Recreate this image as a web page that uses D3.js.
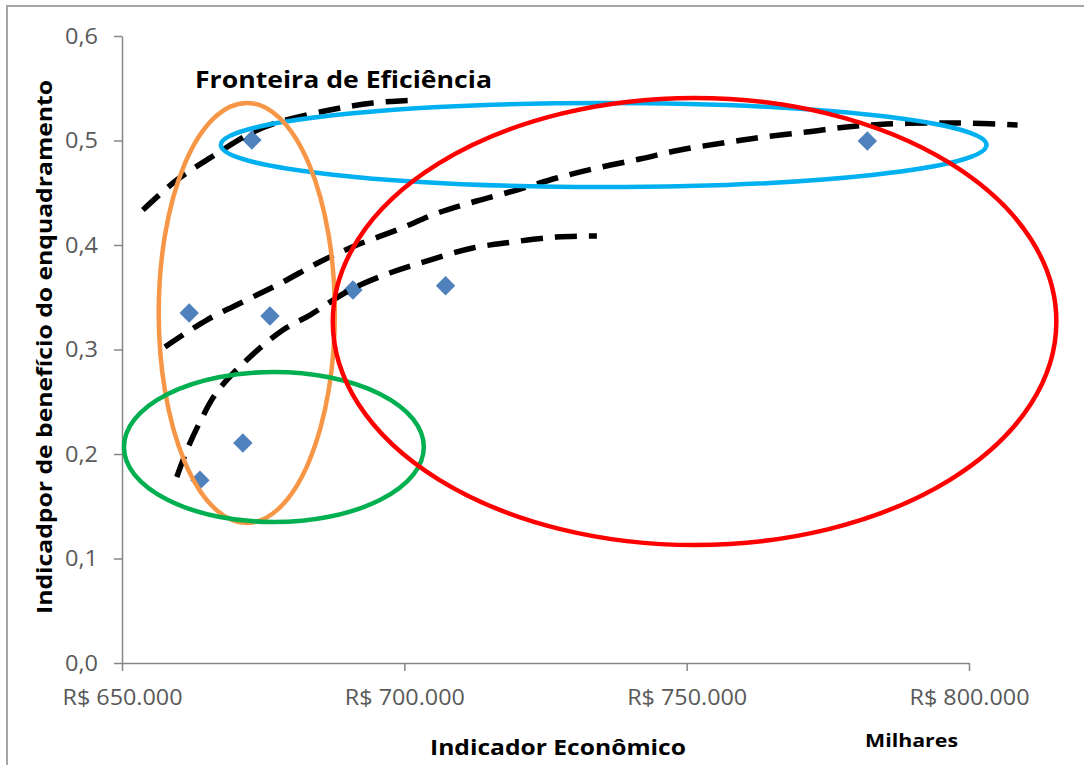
<!DOCTYPE html>
<html>
<head>
<meta charset="utf-8">
<script src="https://cdn.jsdelivr.net/npm/d3@7"></script>
<style>
  html, body { margin: 0; padding: 0; background: #fff; }
  svg { display: block; }
  text { font-family: "Open Sans", "DejaVu Sans", sans-serif; }
</style>
</head>
<body>
<svg id="chart" width="1084" height="765"></svg>
<script>
// ---- data (x in R$ thousands, y = indicator) ----
const xTickValues = [650, 700, 750, 800];
const xTickLabels = ["R$ 650.000", "R$ 700.000", "R$ 750.000", "R$ 800.000"];
const yTickValues = [0, 0.1, 0.2, 0.3, 0.4, 0.5, 0.6];
const yTickLabels = ["0,0", "0,1", "0,2", "0,3", "0,4", "0,5", "0,6"];

const pointsX = [661.9, 663.8, 671.4, 673.0, 676.2, 690.9, 707.3, 782.0];
const pointsY = [0.335, 0.175, 0.2105, 0.5005, 0.332, 0.357, 0.361, 0.4995];

// frontier curves (dashed), hand-drawn trend lines
const curveAX = [653.7, 659.7, 665.6, 673.2, 678.5, 686.8, 694.4, 702.4];
const curveAY = [0.4335, 0.4622, 0.4833, 0.5081, 0.5187, 0.5292, 0.5359, 0.5388];
const curveBX = [657.6, 665.0, 672.1, 678.5, 685.0, 691.6, 698.7, 705.9, 712.8, 719.9, 727.0, 734.1, 741.7, 748.8, 756.4, 763.5, 771.2, 778.3, 785.4, 793.5, 800.1, 808.6];
const curveBY = [0.3024, 0.3282, 0.3474, 0.3646, 0.3837, 0.400, 0.4144, 0.4306, 0.4421, 0.4526, 0.4641, 0.4737, 0.4823, 0.4909, 0.4976, 0.5033, 0.5081, 0.5129, 0.5158, 0.5167, 0.5167, 0.5148];
const curveCX = [659.7, 661.5, 663.8, 666.8, 672.1, 678.5, 683.3, 690.4, 697.4, 704.5, 712.1, 719.2, 727.0, 734.1];
const curveCY = [0.178, 0.2038, 0.2306, 0.2593, 0.290, 0.3187, 0.333, 0.357, 0.3732, 0.3856, 0.3971, 0.4029, 0.4077, 0.4086];

// annotation ellipses: centre and radii in data units
const ellipseNames = ["blue", "orange", "green", "red"];
const ellipseCX = [735.3, 672.1, 676.9, 751.4];
const ellipseCY = [0.4957, 0.335, 0.2067, 0.3268];
const ellipseRX = [67.8, 15.6, 26.55, 64.07];
const ellipseRY = [0.0402, 0.201, 0.0718, 0.2139];
const ellipseColors = ["#00B0F0", "#F79646", "#00B050", "#FF0000"];

const titleText = "Fronteira de Eficiência";
const xAxisTitle = "Indicador Econômico";
const yAxisTitle = "Indicadpor de benefício do enquadramento";
const unitsLabel = "Milhares";

// ---- layout ----
const svg = d3.select("#chart");
const plot = { left: 122, right: 969, top: 36, bottom: 663 };

const x = d3.scaleLinear().domain([650, 800]).range([plot.left, plot.right]);
const y = d3.scaleLinear().domain([0, 0.6]).range([plot.bottom, plot.top]);

// outer frame (cropped at right/bottom)
svg.append("path")
  .attr("d", "M7,780 L7,6 L1100,6")
  .attr("fill", "none").attr("stroke", "#A6A6A6").attr("stroke-width", 2);

// axes
const axisColor = "#868686";
const yAxis = d3.axisLeft(y).tickValues(yTickValues)
  .tickFormat((d, i) => yTickLabels[i]).tickSize(8).tickSizeOuter(0);
const gy = svg.append("g").attr("transform", `translate(${plot.left},0)`).call(yAxis);
const xAxis = d3.axisBottom(x).tickValues(xTickValues)
  .tickFormat((d, i) => xTickLabels[i]).tickSize(8).tickSizeOuter(0);
const gx = svg.append("g").attr("transform", `translate(0,${plot.bottom})`).call(xAxis);

[gx, gy].forEach(g => {
  g.select(".domain").attr("stroke", axisColor).attr("stroke-width", 1.5);
  g.selectAll(".tick line").attr("stroke", axisColor).attr("stroke-width", 1.5);
  g.selectAll(".tick text").attr("fill", "#595959")
    .style("font-size", "21px").style("font-family", "'Open Sans', sans-serif")
    .attr("lengthAdjust", "spacingAndGlyphs");
});
gy.selectAll(".tick text").attr("x", -24).attr("dy", "0.34em").attr("textLength", 33);
gx.selectAll(".tick text").attr("y", 25).attr("dy", "0.8em").attr("textLength", 120);

// data points (diamonds)
const diamond = d3.symbol().type(d3.symbolDiamond2).size(240);
svg.append("g").selectAll("path")
  .data(pointsX.map((v, i) => [v, pointsY[i]]))
  .join("path")
  .attr("d", diamond)
  .attr("transform", d => `translate(${x(d[0])},${y(d[1])})`)
  .attr("fill", "#4F81BD");

// dashed curves
const line = d3.line().x(d => x(d[0])).y(d => y(d[1])).curve(d3.curveCatmullRom.alpha(0.5));
const curves = [
  curveAX.map((v, i) => [v, curveAY[i]]),
  curveBX.map((v, i) => [v, curveBY[i]]),
  curveCX.map((v, i) => [v, curveCY[i]])
];
svg.append("g").selectAll("path").data(curves).join("path")
  .attr("d", line)
  .attr("fill", "none").attr("stroke", "#000")
  .attr("stroke-width", 5.5).attr("stroke-dasharray", "22 12");

// ellipses
svg.append("g").selectAll("ellipse").data(ellipseNames).join("ellipse")
  .attr("cx", (d, i) => x(ellipseCX[i]))
  .attr("cy", (d, i) => y(ellipseCY[i]))
  .attr("rx", (d, i) => x(650 + ellipseRX[i]) - x(650))
  .attr("ry", (d, i) => y(0) - y(ellipseRY[i]))
  .attr("fill", "none")
  .attr("stroke", (d, i) => ellipseColors[i])
  .attr("stroke-width", 4.5);

// texts
svg.append("text").attr("x", 195).attr("y", 88)
  .attr("font-weight", "bold").attr("font-size", 23).attr("fill", "#000")
  .attr("textLength", 297).attr("lengthAdjust", "spacingAndGlyphs")
  .text(titleText);

svg.append("text").attr("x", 430).attr("y", 755)
  .attr("font-weight", "bold").attr("font-size", 22).attr("fill", "#000")
  .attr("textLength", 256).attr("lengthAdjust", "spacingAndGlyphs")
  .text(xAxisTitle);

svg.append("text").attr("x", 865).attr("y", 747)
  .attr("font-weight", "bold").attr("font-size", 18).attr("fill", "#000")
  .attr("textLength", 93).attr("lengthAdjust", "spacingAndGlyphs")
  .text(unitsLabel);

svg.append("text").attr("transform", "translate(52,614) rotate(-90)")
  .attr("font-weight", "bold").attr("font-size", 22).attr("fill", "#000")
  .attr("textLength", 534).attr("lengthAdjust", "spacingAndGlyphs")
  .text(yAxisTitle);
</script>
</body>
</html>
